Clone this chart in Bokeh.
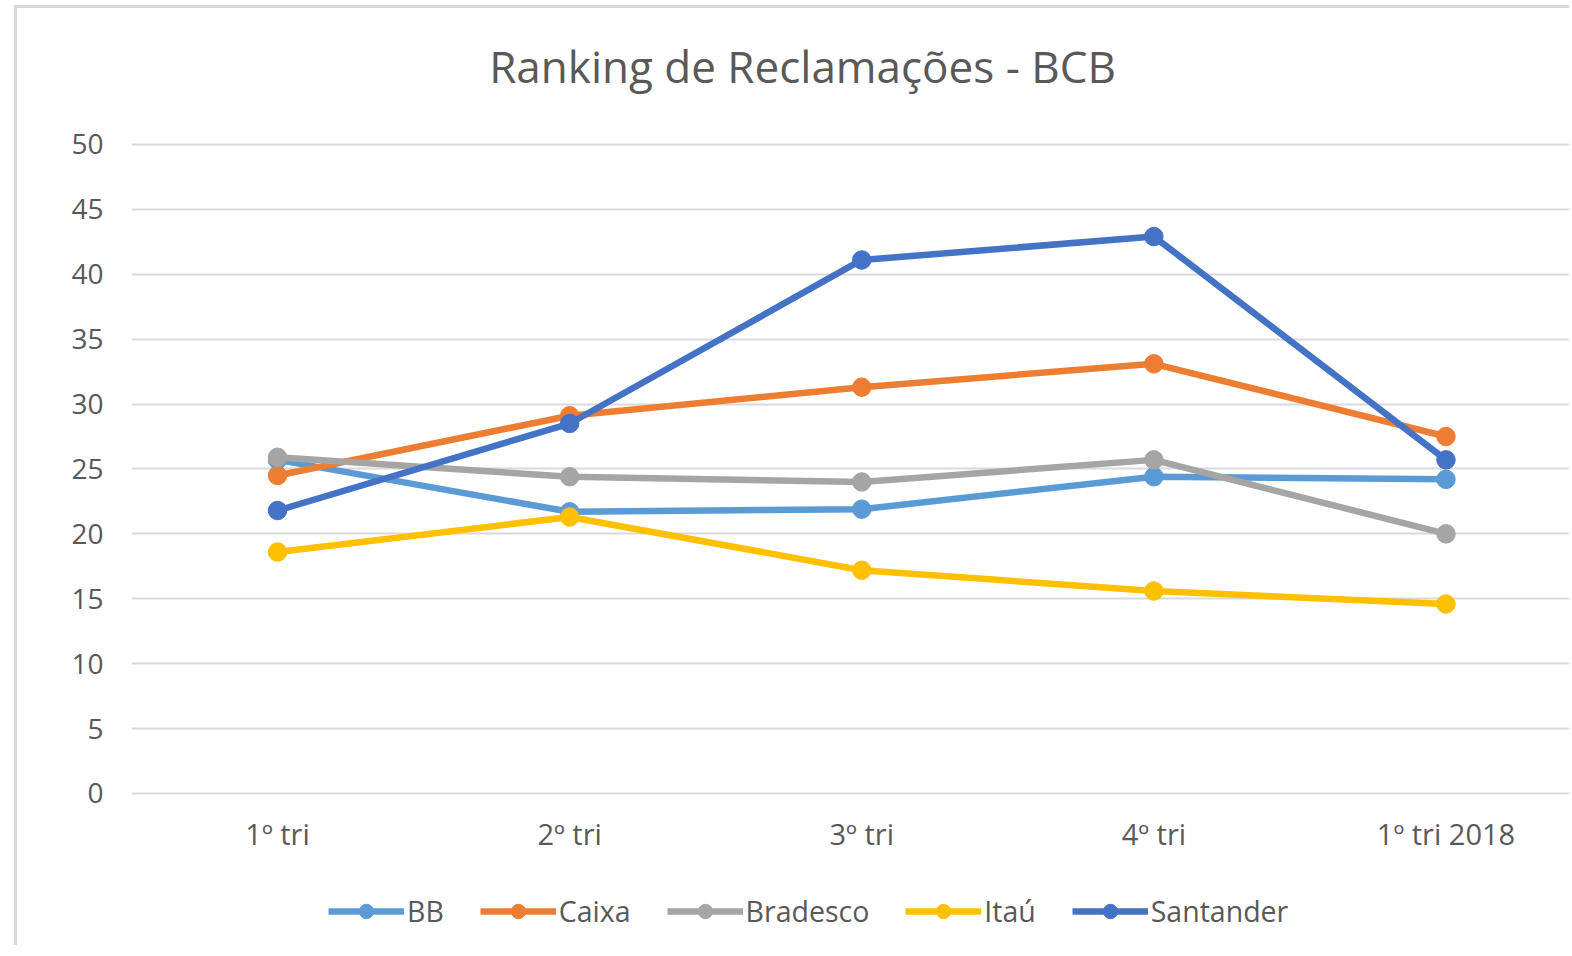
from bokeh.plotting import figure
from bokeh.models import Range1d, FixedTicker, Legend, LegendItem, Label, Spacer
from bokeh.layouts import row, column
from bokeh.embed import file_html
from bokeh.resources import INLINE

title_text = "Ranking de Reclamações - BCB"
categories = ["1º tri", "2º tri", "3º tri", "4º tri", "1º tri 2018"]
bb = [25.7, 21.7, 21.9, 24.4, 24.2]
caixa = [24.5, 29.1, 31.3, 33.1, 27.5]
bradesco = [25.9, 24.4, 24.0, 25.7, 20.0]
itau = [18.6, 21.3, 17.2, 15.6, 14.6]
santander = [21.8, 28.5, 41.1, 42.9, 25.7]

series_names = ["BB", "Caixa", "Bradesco", "Itaú", "Santander"]
series_values = [bb, caixa, bradesco, itau, santander]
colors = ["#5B9BD5", "#ED7D31", "#A5A5A5", "#FFC000", "#4472C4"]
y_ticks = [0, 5, 10, 15, 20, 25, 30, 35, 40, 45, 50]

FONT = "Open Sans"
TXT = "#595959"

xs = list(range(len(categories)))

p = figure(frame_width=1438, frame_height=937, output_backend="svg", toolbar_location=None,
           x_range=Range1d(-0.5, 4.4331), y_range=Range1d(-11.94, 60.47),
           min_border_left=114, min_border_right=0, min_border_top=0,
           min_border_bottom=0)
p.styles = {"border-left": "3px solid #d9d9d9", "border-top": "3px solid #d9d9d9"}
p.outline_line_color = None
p.background_fill_color = "white"
p.border_fill_color = "white"

title = Label(x=671, y=883, x_units="screen", y_units="screen", text=title_text,
              text_font=FONT, text_font_size="44px", text_color=TXT,
              text_align="center", text_baseline="middle")
p.add_layout(title)

p.xgrid.visible = False
p.ygrid.grid_line_color = "#d9d9d9"
p.ygrid.grid_line_width = 2
p.yaxis.ticker = FixedTicker(ticks=y_ticks)
p.xaxis.ticker = FixedTicker(ticks=xs)
p.xaxis.major_label_overrides = {i: c for i, c in enumerate(categories)}
p.xaxis.fixed_location = 0

for ax in (p.xaxis, p.yaxis):
    ax.axis_line_color = None
    ax.major_tick_line_color = None
    ax.minor_tick_line_color = None
    ax.major_tick_out = 0
    ax.major_tick_in = 0
    ax.major_label_text_font = FONT
    ax.major_label_text_color = TXT
p.yaxis.major_label_text_font_size = "28px"
p.xaxis.major_label_text_font_size = "29px"
p.yaxis.major_label_standoff = 28
p.xaxis.major_label_standoff = 21

items = []
for name, vals, col in zip(series_names, series_values, colors):
    r1 = p.line(xs, vals, line_color=col, line_width=6.5)
    r2 = p.scatter(xs, vals, size=18.5, fill_color=col, line_color=col)
    items.append(LegendItem(label=name, renderers=[r1, r2]))

legend = Legend(items=items, orientation="horizontal", location=(197, 18),
                label_text_font=FONT, label_text_font_size="28.5px",
                label_text_color=TXT, glyph_width=76, glyph_height=36,
                spacing=36, label_standoff=3, border_line_color=None,
                background_fill_alpha=0, padding=0, margin=0)
p.add_layout(legend)

layout = column(Spacer(height=5), row(Spacer(width=14), p))
open("out.html", "w").write(file_html(layout, INLINE))
